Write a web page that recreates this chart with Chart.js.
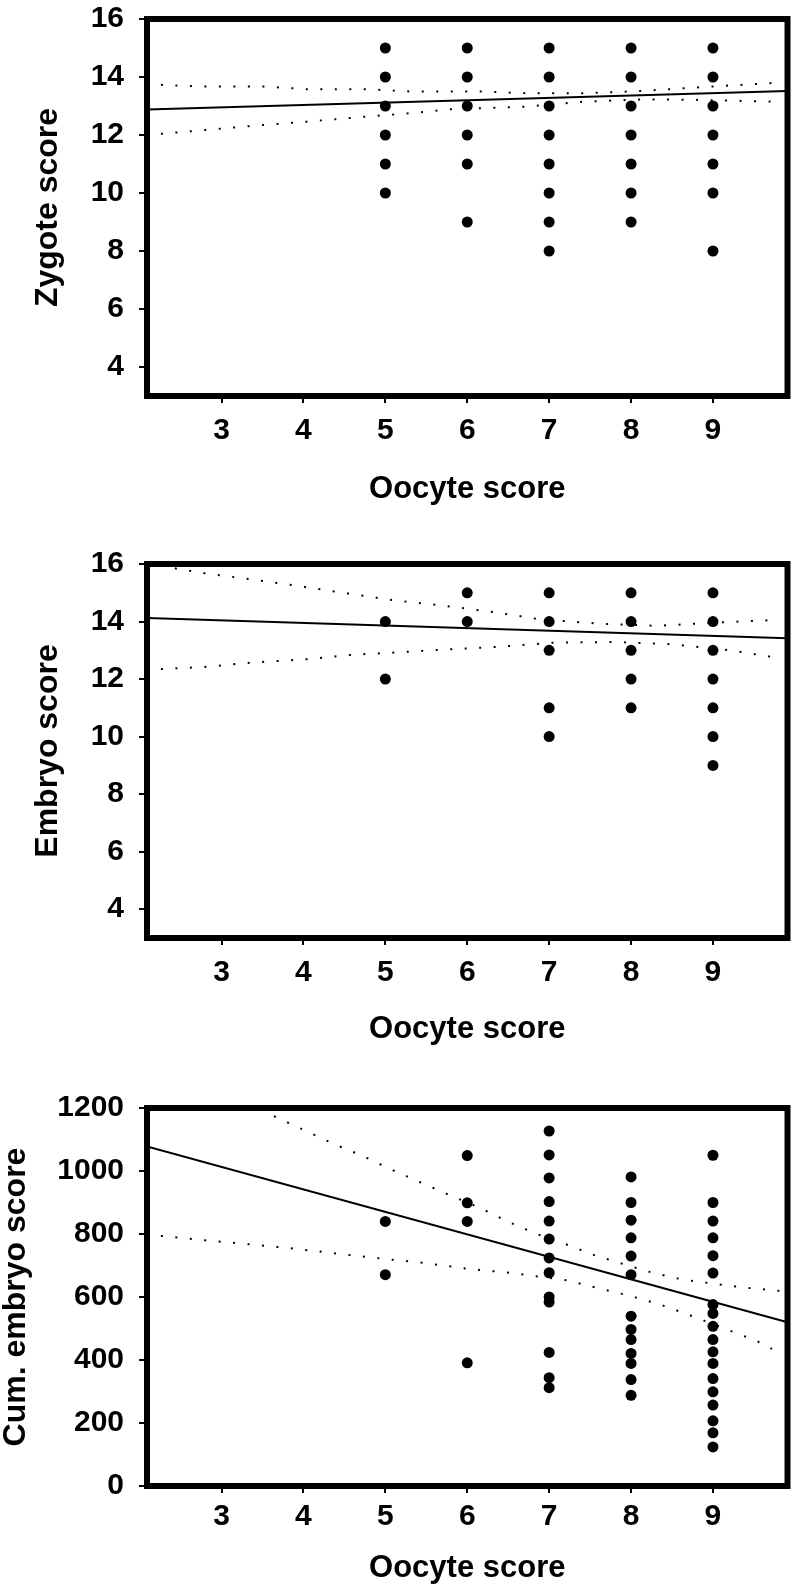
<!DOCTYPE html>
<html>
<head>
<meta charset="utf-8">
<script src="https://cdn.jsdelivr.net/npm/chart.js@4.4.0/dist/chart.umd.min.js"></script>
<style>
  body { margin: 0; background: #fff; }
  .panel { position: absolute; left: 0; width: 793px; }
</style>
</head>
<body>
<div class="panel" style="top:0"><canvas id="zygoteChart" width="793" height="520"></canvas></div>
<div class="panel" style="top:520px"><canvas id="embryoChart" width="793" height="540"></canvas></div>
<div class="panel" style="top:1060px"><canvas id="cumChart" width="793" height="524"></canvas></div>
<script>
const oocyteTicks = [3, 4, 5, 6, 7, 8, 9];
const oocyteMin = 2.09;
const oocyteMax = 9.91;
const fitX = [2.09, 9.91];

// Zygote score vs oocyte score
const zygoteTicks = [4, 6, 8, 10, 12, 14, 16];
const zygoteX = [5, 5, 5, 5, 5, 5, 6, 6, 6, 6, 6, 6, 7, 7, 7, 7, 7, 7, 7, 7, 8, 8, 8, 8, 8, 8, 8, 9, 9, 9, 9, 9, 9, 9];
const zygoteY = [15, 14, 13, 12, 11, 10, 15, 14, 13, 12, 11, 9, 15, 14, 13, 12, 11, 10, 9, 8, 15, 14, 13, 12, 11, 10, 9, 15, 14, 13, 12, 11, 10, 8];
const zygoteFit = [12.88, 13.52];
const zygoteUpperX = [2.26, 2.79, 3.53, 4.04, 4.75, 5.30, 6.17, 6.72, 7.43, 8.14, 8.86, 9.72];
const zygoteUpperY = [13.73, 13.67, 13.67, 13.58, 13.58, 13.50, 13.50, 13.44, 13.44, 13.52, 13.65, 13.79];
const zygoteLowerX = [2.26, 2.79, 3.53, 4.04, 4.75, 5.30, 5.81, 6.72, 7.43, 8.14, 8.86, 9.72];
const zygoteLowerY = [12.04, 12.17, 12.35, 12.46, 12.63, 12.75, 12.89, 12.98, 13.15, 13.23, 13.21, 13.15];

// Embryo score vs oocyte score
const embryoTicks = [4, 6, 8, 10, 12, 14, 16];
const embryoX = [5, 5, 6, 6, 7, 7, 7, 7, 7, 8, 8, 8, 8, 8, 9, 9, 9, 9, 9, 9, 9];
const embryoY = [14, 12, 15, 14, 15, 14, 13, 11, 10, 15, 14, 13, 12, 11, 15, 14, 13, 12, 11, 10, 9];
const embryoFit = [14.12, 13.42];
const embryoUpperX = [2.43, 2.79, 3.35, 3.86, 4.39, 5.10, 5.66, 6.37, 6.88, 7.59, 8.32, 9.01, 9.72];
const embryoUpperY = [15.85, 15.68, 15.47, 15.27, 15.04, 14.74, 14.57, 14.31, 14.08, 13.93, 13.85, 13.96, 14.05];
const embryoLowerX = [2.26, 2.79, 3.35, 4.04, 4.57, 5.10, 5.81, 6.37, 7.08, 7.80, 8.50, 9.21, 9.72];
const embryoLowerY = [12.35, 12.42, 12.57, 12.69, 12.84, 12.92, 13.04, 13.12, 13.27, 13.29, 13.21, 13.00, 12.77];

// Cumulative embryo score vs oocyte score
const cumTicks = [0, 200, 400, 600, 800, 1000, 1200];
const cumX = [5, 5,
  6, 6, 6, 6,
  7, 7, 7, 7, 7, 7, 7, 7, 7, 7, 7, 7, 7,
  8, 8, 8, 8, 8, 8, 8, 8, 8, 8, 8, 8, 8,
  9, 9, 9, 9, 9, 9, 9, 9, 9, 9, 9, 9, 9, 9, 9, 9, 9, 9];
const cumY = [840, 671,
  1049, 899, 840, 391,
  1127, 1051, 978, 903, 841, 784, 724, 677, 600, 584, 424, 344, 312,
  981, 900, 844, 788, 730, 671, 539, 497, 465, 421, 389, 338, 288,
  1050, 900, 841, 788, 731, 676, 576, 548, 507, 465, 426, 389, 341, 299, 257, 207, 169, 124];
const cumFit = [1078, 520];
const cumUpperX = [3.64, 4.00, 4.36, 4.73, 5.07, 5.42, 5.76, 6.13, 6.49, 6.84, 7.20, 7.55, 7.91, 8.26, 8.62, 9.15, 9.50, 9.88];
const cumUpperY = [1174, 1131, 1087, 1047, 1005, 965, 926, 886, 840, 801, 768, 733, 704, 677, 656, 637, 627, 618];
const cumLowerX = [2.26, 2.80, 3.35, 3.87, 4.40, 4.95, 5.48, 5.99, 6.55, 6.90, 7.22, 7.61, 7.95, 8.32, 8.66, 9.19, 9.54, 9.72];
const cumLowerY = [794, 780, 767, 754, 738, 722, 708, 690, 676, 664, 653, 627, 606, 579, 548, 495, 460, 435];

const FONT = '"Liberation Sans", Arial, sans-serif';

const pts = (xs, ys) => xs.map((x, i) => ({ x: x, y: ys[i] }));

// thick box round the plot area
const framePlugin = {
  id: 'frame',
  afterDatasetsDraw(chart) {
    const { ctx, chartArea: a } = chart;
    ctx.save();
    ctx.lineWidth = 6;
    ctx.strokeStyle = '#000';
    ctx.strokeRect(a.left, a.top, a.right - a.left, a.bottom - a.top);
    ctx.restore();
  }
};

function drawPanel(id, p) {
  const band = (xs, ys) => ({
    data: pts(xs, ys), showLine: true, borderColor: '#000', borderWidth: 2,
    borderDash: [2, 12.5], pointRadius: 0
  });
  new Chart(document.getElementById(id), {
    type: 'scatter',
    data: {
      datasets: [
        { data: pts(p.x, p.y), pointRadius: 5.5, pointBackgroundColor: '#000', pointBorderWidth: 0 },
        { data: pts(fitX, p.fit), showLine: true, borderColor: '#000', borderWidth: 2, pointRadius: 0 },
        band(p.upX, p.upY),
        band(p.loX, p.loY)
      ]
    },
    options: {
      responsive: false,
      animation: false,
      layout: { padding: { top: p.top, right: 4, left: 0, bottom: 0 } },
      plugins: { legend: { display: false }, tooltip: { enabled: false } },
      scales: {
        x: {
          type: 'linear', min: oocyteMin, max: oocyteMax,
          afterBuildTicks: s => { s.ticks = oocyteTicks.map(v => ({ value: v })); },
          afterFit: s => { s.height = p.xHeight; s.paddingLeft = 0; s.paddingRight = 0; },
          grid: { drawOnChartArea: false, drawTicks: true, tickLength: 7, color: '#000', lineWidth: 2 },
          border: { display: false },
          ticks: {
            color: '#000', padding: p.xPad, maxRotation: 0, autoSkip: false,
            font: { family: FONT, size: 30, weight: 'bold' },
            callback: v => String(v)
          },
          title: {
            display: true, text: 'Oocyte score', color: '#000',
            font: { family: FONT, size: 31, weight: 'bold', lineHeight: 1 },
            padding: { top: 0, bottom: p.xTitlePad }
          }
        },
        y: {
          type: 'linear', min: p.yMin, max: p.yMax,
          afterBuildTicks: s => { s.ticks = p.yTicks.map(v => ({ value: v })); },
          afterFit: s => { s.width = 147; s.paddingTop = 0; s.paddingBottom = 0; },
          grid: { drawOnChartArea: false, drawTicks: true, tickLength: 8, color: '#000', lineWidth: 2 },
          border: { display: false },
          ticks: {
            color: '#000', padding: 15, autoSkip: false,
            font: { family: FONT, size: 30, weight: 'bold' },
            callback: v => String(v)
          },
          title: {
            display: true, text: p.yTitle, color: '#000',
            font: { family: FONT, size: 32, weight: 'bold', lineHeight: 1 },
            padding: { top: p.yTitlePad, bottom: 0 }
          }
        }
      }
    },
    plugins: [framePlugin]
  });
}

drawPanel('zygoteChart', {
  x: zygoteX, y: zygoteY, fit: zygoteFit,
  upX: zygoteUpperX, upY: zygoteUpperY, loX: zygoteLowerX, loY: zygoteLowerY,
  yMin: 3, yMax: 16, yTicks: zygoteTicks, yTitle: 'Zygote score',
  top: 19, xHeight: 124, xPad: 10, xTitlePad: 15, yTitlePad: 32
});

drawPanel('embryoChart', {
  x: embryoX, y: embryoY, fit: embryoFit,
  upX: embryoUpperX, upY: embryoUpperY, loX: embryoLowerX, loY: embryoLowerY,
  yMin: 3, yMax: 16, yTicks: embryoTicks, yTitle: 'Embryo score',
  top: 44, xHeight: 122, xPad: 10, xTitlePad: 15, yTitlePad: 32
});

drawPanel('cumChart', {
  x: cumX, y: cumY, fit: cumFit,
  upX: cumUpperX, upY: cumUpperY, loX: cumLowerX, loY: cumLowerY,
  yMin: 0, yMax: 1200, yTicks: cumTicks, yTitle: 'Cum. embryo score',
  top: 48, xHeight: 98, xPad: 6, xTitlePad: 0, yTitlePad: 0
});
</script>
</body>
</html>
